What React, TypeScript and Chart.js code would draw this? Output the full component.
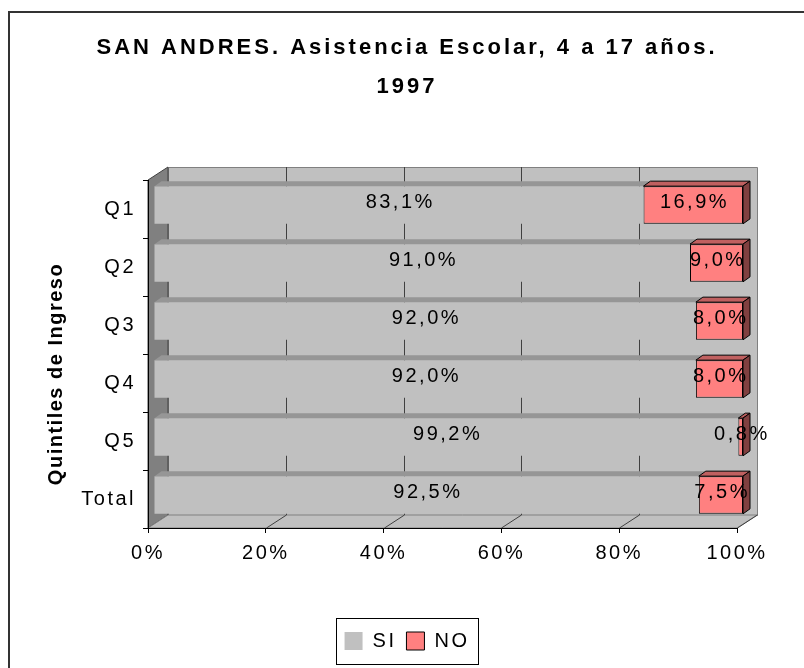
import React, { useEffect, useRef } from 'react';
import { Chart, registerables } from 'chart.js';

Chart.register(...registerables);

// ---------- data ----------
const categories = ['Q1', 'Q2', 'Q3', 'Q4', 'Q5', 'Total'];
const siValues = [83.1, 91.0, 92.0, 92.0, 99.2, 92.5];
const noValues = [16.9, 9.0, 8.0, 8.0, 0.8, 7.5];
const seriesLabels = ['SI', 'NO'];
const xTickValues = [0, 20, 40, 60, 80, 100];
const titleLines = ['SAN ANDRES. Asistencia Escolar, 4 a 17 años.', '1997'];
const yAxisTitle = 'Quintiles de Ingreso';

// ---------- style ----------
const FONT = "'Liberation Sans', Arial, Helvetica, sans-serif";
const SPACING = '2.5px';
const TITLE_SPACING = '3px';
const TEXT_SIZE = 20;
const WALL = { dx: 20, dy: -13 };
const BAR_SHIFT = { dx: 6, dy: -4 };
const BAR_DEPTH = { dx: 7, dy: -5 };
const FRONT_COLORS = ['#C0C0C0', '#FF8080'];
const TOP_COLORS = ['#969696', '#C06060'];
const SIDE_COLORS = ['#808080', '#804040'];

const fmt = (v: number) => v.toFixed(1).replace('.', ',') + '%';

function poly(ctx: any, pts: number[][]) {
  ctx.beginPath();
  ctx.moveTo(pts[0][0], pts[0][1]);
  for (let i = 1; i < pts.length; i++) ctx.lineTo(pts[i][0], pts[i][1]);
  ctx.closePath();
}

const threeDPlugin = {
  id: 'threeD',
  beforeLayout(chart: any) {
    chart.ctx.letterSpacing = SPACING;
  },
  afterLayout(chart: any) {
    const s: any = chart.scales.y;
    if (s && !s.__wrapped) {
      const orig = s.drawTitle;
      s.drawTitle = function (...args: any[]) {
        const ctx = this.ctx;
        ctx.save();
        ctx.letterSpacing = '1.5px';
        ctx.translate(0, 20);
        orig.apply(this, args);
        ctx.restore();
      };
      s.__wrapped = true;
    }
    const tb: any = chart.titleBlock;
    if (tb && !tb.__wrapped) {
      const origT = tb.draw;
      tb.draw = function (...args: any[]) {
        const ctx = this.ctx;
        ctx.save();
        ctx.letterSpacing = TITLE_SPACING;
        origT.apply(this, args);
        ctx.restore();
      };
      tb.__wrapped = true;
    }
  },
  beforeDraw(chart: any) {
    const ctx = chart.ctx;
    ctx.letterSpacing = SPACING;
    const { left, right, top, bottom } = chart.chartArea;
    const xs = chart.scales.x;
    const { dx, dy } = WALL;
    ctx.save();
    ctx.lineWidth = 1;
    // back wall
    ctx.fillStyle = '#C0C0C0';
    ctx.strokeStyle = '#808080';
    ctx.beginPath();
    ctx.rect(Math.round(left + dx) + 0.5, Math.round(top + dy) + 0.5, right - left, bottom - top);
    ctx.fill();
    ctx.stroke();
    // left wall
    ctx.fillStyle = '#808080';
    ctx.strokeStyle = '#404040';
    poly(ctx, [[left, top], [left + dx, top + dy], [left + dx, bottom + dy], [left, bottom]]);
    ctx.fill();
    ctx.stroke();
    // floor
    ctx.fillStyle = '#C0C0C0';
    ctx.strokeStyle = '#808080';
    poly(ctx, [[left, bottom], [right, bottom], [right + dx, bottom + dy], [left + dx, bottom + dy]]);
    ctx.fill();
    ctx.stroke();
    // gridlines on back wall and floor
    ctx.strokeStyle = '#404040';
    xTickValues.forEach((v) => {
      const px = Math.round(xs.getPixelForValue(v)) + 0.5;
      if (v > xTickValues[0] && v < xTickValues[xTickValues.length - 1]) {
        ctx.beginPath();
        ctx.moveTo(px + dx, top + dy);
        ctx.lineTo(px + dx, bottom + dy);
        ctx.stroke();
      }
      if (v > xTickValues[0]) {
        ctx.beginPath();
        ctx.moveTo(px, bottom);
        ctx.lineTo(px + dx, bottom + dy);
        ctx.stroke();
      }
    });
    ctx.restore();
  },
  beforeDatasetsDraw(chart: any) {
    chart.ctx.save();
    chart.ctx.translate(BAR_SHIFT.dx, BAR_SHIFT.dy);
  },
  afterDatasetsDraw(chart: any) {
    const ctx = chart.ctx;
    const metas = chart.getSortedVisibleDatasetMetas();
    const { dx, dy } = BAR_DEPTH;
    const boxes: any[] = [];
    metas.forEach((meta: any) => {
      const di = meta.index;
      meta.data.forEach((el: any, i: number) => {
        const p = el.getProps(['x', 'y', 'base', 'height'], true);
        const l = Math.min(p.x, p.base);
        const r = Math.max(p.x, p.base);
        const t = p.y - p.height / 2;
        const b = p.y + p.height / 2;
        const outlined = di === 1;
        ctx.lineWidth = 1;
        ctx.strokeStyle = '#000';
        ctx.fillStyle = TOP_COLORS[di];
        poly(ctx, [[l, t], [r, t], [r + dx, t + dy], [l + dx, t + dy]]);
        ctx.fill();
        if (outlined) ctx.stroke();
        if (di === metas.length - 1) {
          ctx.fillStyle = SIDE_COLORS[di];
          poly(ctx, [[r, t], [r + dx, t + dy], [r + dx, b + dy], [r, b]]);
          ctx.fill();
          ctx.stroke();
        }
        boxes.push({ x: (l + r) / 2, y: p.y, text: fmt(chart.data.datasets[di].data[i]) });
      });
    });
    ctx.fillStyle = '#000';
    ctx.font = `${TEXT_SIZE}px ${FONT}`;
    ctx.textAlign = 'center';
    ctx.textBaseline = 'middle';
    boxes.forEach((bx) => {
      ctx.fillText(bx.text, bx.x + 1.25, bx.y - 3);
    });
    ctx.restore();
  },
  afterDraw(chart: any) {
    const ctx = chart.ctx;
    ctx.save();
    // legend frame
    const lg: any = chart.legend;
    if (lg && lg.legendHitBoxes && lg.legendHitBoxes.length) {
      const hb = lg.legendHitBoxes;
      const first = hb[0];
      const last = hb[hb.length - 1];
      const cy = first.top + first.height / 2;
      const x0 = Math.round(first.left - 9) + 0.5;
      const x1 = Math.round(last.left + last.width + 9) + 0.5;
      ctx.strokeStyle = '#000';
      ctx.lineWidth = 1;
      ctx.strokeRect(x0, Math.round(cy - 23) + 0.5, x1 - x0, 46);
    }
    // outer frame
    ctx.strokeStyle = '#333';
    ctx.lineWidth = 2;
    ctx.beginPath();
    ctx.moveTo(9, 668);
    ctx.lineTo(9, 12);
    ctx.lineTo(804, 12);
    ctx.stroke();
    ctx.restore();
  },
};

export default function App() {
  const ref = useRef<HTMLCanvasElement>(null);
  useEffect(() => {
    if (!ref.current) return;
    Chart.defaults.font.family = FONT;
    Chart.defaults.color = '#000';
    const chart = new Chart(ref.current, {
      type: 'bar',
      data: {
        labels: categories,
        datasets: [
          {
            label: seriesLabels[0],
            data: siValues,
            backgroundColor: FRONT_COLORS[0],
            borderWidth: 0,
            barPercentage: 0.65,
            categoryPercentage: 1,
            clip: false as any,
            xAxisID: 'x',
            yAxisID: 'y',
          },
          {
            label: seriesLabels[1],
            data: noValues,
            backgroundColor: FRONT_COLORS[1],
            borderColor: '#000',
            borderWidth: 1,
            borderSkipped: false,
            barPercentage: 0.65,
            categoryPercentage: 1,
            clip: false as any,
            xAxisID: 'x',
            yAxisID: 'y',
          },
        ],
      },
      options: {
        indexAxis: 'y',
        responsive: false,
        maintainAspectRatio: false,
        animation: false,
        devicePixelRatio: 1,
        events: [],
        layout: { padding: { left: 10, right: 0, top: 29, bottom: 7 } },
        scales: {
          x: {
            type: 'linear',
            position: 'bottom',
            stacked: true,
            min: 0,
            max: 100,
            afterBuildTicks: (s: any) => {
              s.ticks = xTickValues.map((v) => ({ value: v }));
            },
            ticks: {
              color: '#000',
              font: { size: TEXT_SIZE, family: FONT },
              padding: 8,
              callback: (v: any) => v + '%',
            },
            grid: { display: true, drawOnChartArea: false, drawTicks: true, tickLength: 5, color: '#000' },
            border: { display: true, color: '#000', width: 1 },
            afterFit: (s: any) => {
              s.height = 93;
            },
          },
          y: {
            type: 'category',
            position: 'left',
            stacked: true,
            offset: true,
            ticks: { color: '#000', font: { size: TEXT_SIZE, family: FONT }, padding: 7 },
            grid: { display: true, offset: true, drawOnChartArea: false, drawTicks: true, tickLength: 5, color: '#000' },
            border: { display: true, color: '#000', width: 1 },
            title: {
              display: true,
              text: yAxisTitle,
              color: '#000',
              font: { size: 20, weight: 'bold', family: FONT },
              padding: { top: 34, bottom: 0 },
            },
            afterFit: (s: any) => {
              s.width = 138;
            },
          },
          yR: {
            type: 'category',
            position: 'right',
            display: true,
            grid: { display: false },
            border: { display: false },
            ticks: { display: false },
            afterFit: (s: any) => {
              s.width = 67;
            },
          },
        } as any,
        plugins: {
          title: {
            display: true,
            text: titleLines,
            color: '#000',
            font: { size: 22, weight: 'bold', family: FONT, lineHeight: 1.75 },
            padding: { top: 0, bottom: 74 },
          },
          legend: {
            display: true,
            position: 'bottom',
            labels: {
              color: '#000',
              font: { size: TEXT_SIZE, family: FONT },
              boxWidth: 18,
              boxHeight: 18,
              padding: 10,
            },
          },
          tooltip: { enabled: false },
        },
      } as any,
      plugins: [threeDPlugin],
    });
    return () => chart.destroy();
  }, []);
  return (
    <div style={{ position: 'fixed', left: 0, top: 0, width: 804, height: 668, background: '#fff' }}>
      <canvas ref={ref} width={804} height={668} style={{ display: 'block', width: 804, height: 668 }} />
    </div>
  );
}
